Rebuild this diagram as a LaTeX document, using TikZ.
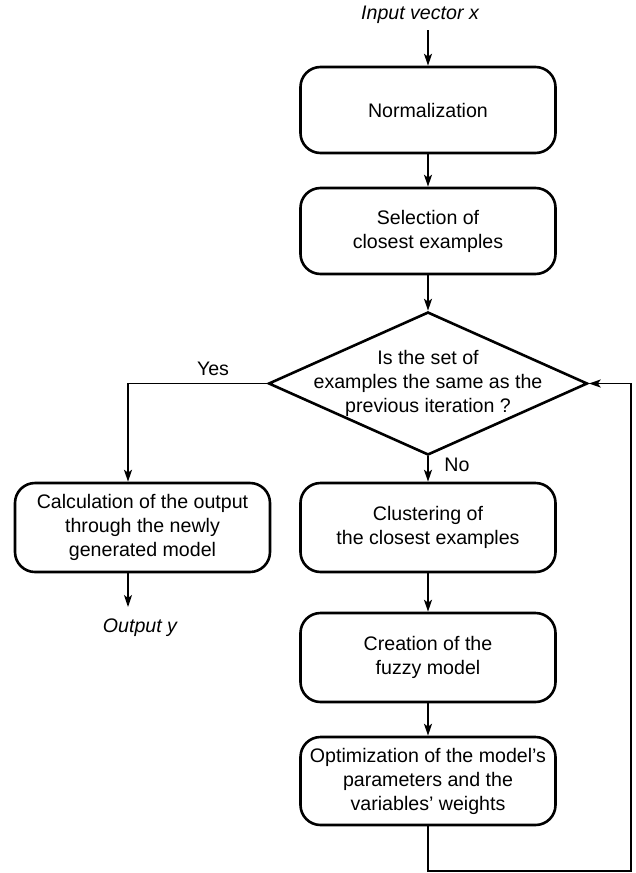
\documentclass[tikz,border=0pt]{standalone}
\usepackage{fontspec}
\setmainfont{Liberation Sans}
\usetikzlibrary{shapes.geometric,arrows.meta}
\begin{document}
\begin{tikzpicture}[x=1pt,y=-1pt,
  every node/.style={font=\fontsize{19.6}{24}\selectfont},
  procbox/.style={draw, line width=2.6pt, rounded corners=20pt, minimum width=255pt, align=center, inner sep=0pt},
  decbox/.style={draw, diamond, line width=2.6pt, minimum width=319pt, minimum height=143pt, inner sep=0pt},
  conn/.style={line width=1.4pt, -{Stealth[length=12pt,width=8pt,inset=3pt]}},
  lbl/.style={inner sep=0pt}
]
\useasboundingbox (0,0) rectangle (636,873);
\node[lbl, font=\fontsize{19.6}{24}\selectfont\itshape] (in) at (420,15) {Input vector x};
\coordinate (instart) at (428,30);
\node[procbox, minimum height=86pt] (norm) at (428,110) {Normalization};
\node[procbox, minimum height=86pt] (sel) at (428,231) {Selection of\\closest examples};
\node[decbox] (dec) at (428,383.5) {};
\node[lbl, align=center] (dectext) at (dec.center) {Is the set of\\examples the same as the\\previous iteration ?};
\node[procbox, minimum height=89pt] (clus) at (428,527.5) {Clustering of\\the closest examples};
\node[procbox, minimum height=89pt] (crea) at (428,657.5) {Creation of the\\fuzzy model};
\node[procbox, minimum height=88pt] (opt) at (428,781) {Optimization of the model's\\parameters and the\\variables' weights};
\node[procbox, minimum height=89pt] (calc) at (142.5,527.5) {Calculation of the output\\through the newly\\generated model};
\node[lbl, font=\fontsize{19.6}{24}\selectfont\itshape] (out) at (140,628) {Output y};
\coordinate (yescorner) at (128,383.5);
\coordinate (outend) at (128,607);
\coordinate (loopa) at (428,871);
\coordinate (loopb) at (631,871);
\coordinate (loopc) at (631,383.5);
\node[lbl] (yes) at (213,369) {Yes};
\node[lbl] (no) at (457,465) {No};

\draw[conn] (instart) -- (norm.north);
\draw[conn] (norm.south) -- (sel.north);
\draw[conn] (sel.south) -- (dec.north);
\draw[conn] (dec.south) -- (clus.north);
\draw[conn] (clus.south) -- (crea.north);
\draw[conn] (crea.south) -- (opt.north);
\draw[conn] (dec.west) -- (yescorner) -- (calc.north -| yescorner);
\draw[conn] (calc.south -| yescorner) -- (outend);
\draw[conn] (opt.south) -- (loopa) -- (loopb) -- (loopc) -- (dec.east);
\end{tikzpicture}
\end{document}
